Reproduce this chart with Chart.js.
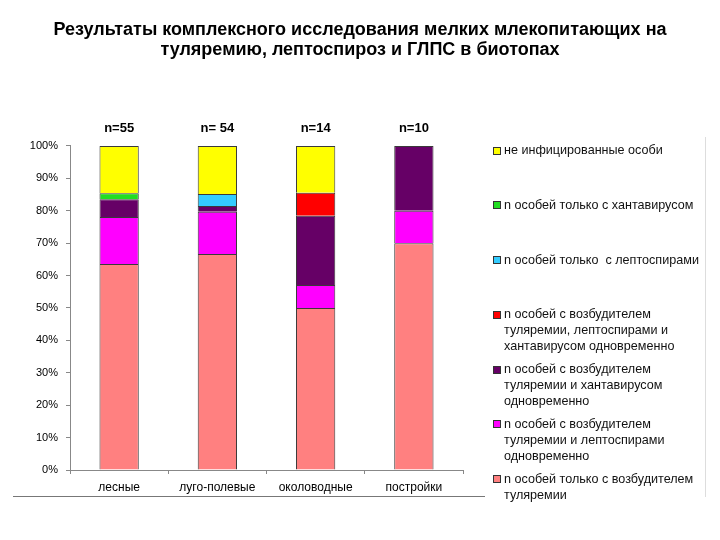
<!DOCTYPE html>
<html>
<head>
<meta charset="utf-8">
<script src="https://cdn.jsdelivr.net/npm/chart.js@4.4.0/dist/chart.umd.min.js"></script>
<style>
  html, body { margin: 0; padding: 0; background: #fff; }
  #wrap { position: relative; width: 720px; height: 540px; overflow: hidden; }
  #c { position: absolute; left: 0; top: 0; }
  #legend { position: absolute; left: 492px; top: 142px; width: 214px;
            font-family: 'Liberation Sans', Arial, sans-serif; font-size: 12.6px; color: #111; }
  .item { position: relative; height: 54.8px; }
  .sw { position: absolute; left: 0.5px; top: 4.5px; width: 6px; height: 6px; border: 1px solid #333; }
  .tx { position: absolute; left: 12px; top: 0; line-height: 16px; white-space: pre; }
  #hline { position: absolute; left: 13px; top: 496px; width: 472px; height: 0; border-top: 1px solid #777; }
  #vline { position: absolute; left: 705px; top: 137px; width: 0; height: 360px; border-left: 1px solid #ddd; }
</style>
</head>
<body>
<div id="wrap">
  <canvas id="c" width="720" height="540"></canvas>
  <div id="legend"></div>
  <div id="hline"></div>
  <div id="vline"></div>
</div>
<script>
// ---- data ----
const titleLines = ["Результаты комплексного исследования мелких млекопитающих на",
                    "туляремию, лептоспироз и ГЛПС в биотопах"];
const categories = ["лесные", "луго-полевые", "околоводные", "постройки"];
const sampleLabels = ["n=55", "n= 54", "n=14", "n=10"];
const yTickLabels = ["0%","10%","20%","30%","40%","50%","60%","70%","80%","90%","100%"];

// percentages, stacked bottom -> top
const tularemiaOnly   = [63.6, 66.7, 50.0, 70.0];
const tularemiaLepto  = [14.5, 13.0, 7.1, 10.0];
const tularemiaHanta  = [5.5, 1.8, 21.4, 20.0];
const allThree        = [0, 0, 7.1, 0];
const leptoOnly       = [0, 3.7, 0, 0];
const hantaOnly       = [1.8, 0, 0, 0];
const notInfected     = [14.6, 14.8, 14.4, 0];

const seriesNames = [
  "n особей только с возбудителем\nтуляремии",
  "n особей с возбудителем\nтуляремии и лептоспирами\nодновременно",
  "n особей с возбудителем\nтуляремии и хантавирусом\nодновременно",
  "n особей с возбудителем\nтуляремии, лептоспирами и\nхантавирусом одновременно",
  "n особей только  с лептоспирами",
  "n особей только с хантавирусом",
  "не инфицированные особи"
];
const seriesColors = ["#FF8080", "#FF00FF", "#660066", "#FF0000", "#33CCFF", "#22DD22", "#FFFF00"];
const seriesValues = [tularemiaOnly, tularemiaLepto, tularemiaHanta, allThree, leptoOnly, hantaOnly, notInfected];

// ---- chart ----
const datasets = seriesValues.map((vals, i) => ({
  label: seriesNames[i],
  data: vals,
  backgroundColor: seriesColors[i],
  borderColor: '#3a3a3a',
  borderWidth: 1,
  categoryPercentage: 0.8,
  barPercentage: 0.5,
  yAxisID: 'y'
}));

const nLabelPlugin = {
  id: 'nLabels',
  afterDatasetsDraw(chart) {
    const ctx = chart.ctx;
    const xs = chart.scales.x;
    ctx.save();
    ctx.font = 'bold 13px "Liberation Sans", Arial, sans-serif';
    ctx.fillStyle = '#000';
    ctx.textAlign = 'center';
    ctx.textBaseline = 'middle';
    sampleLabels.forEach((t, i) => ctx.fillText(t, xs.getPixelForValue(i), 128));
    ctx.restore();
  }
};

new Chart(document.getElementById('c'), {
  type: 'bar',
  data: { labels: categories, datasets },
  plugins: [nLabelPlugin],
  options: {
    responsive: false,
    animation: false,
    layout: { padding: { left: 0, right: 0, top: 0, bottom: 40 } },
    plugins: {
      legend: { display: false },
      tooltip: { enabled: false },
      title: {
        display: true,
        text: titleLines,
        color: '#000',
        font: { family: '"Liberation Sans", Arial, sans-serif', size: 18, weight: 'bold', lineHeight: 1.111 },
        padding: { top: 20, bottom: 86 }
      }
    },
    scales: {
      x: {
        stacked: true,
        afterFit: (s) => { s.height = 30; },
        border: { display: true, color: '#888', width: 1 },
        grid: { display: true, drawOnChartArea: false, drawTicks: true, tickLength: 4, color: '#888', offset: true },
        ticks: { color: '#000', padding: 6, font: { family: '"Liberation Sans", Arial, sans-serif', size: 12 } }
      },
      y: {
        stacked: true,
        min: 0, max: 100,
        afterFit: (s) => { s.width = 70; },
        border: { display: true, color: '#888', width: 1 },
        grid: { display: true, drawOnChartArea: false, drawTicks: true, tickLength: 4, color: '#888' },
        ticks: {
          stepSize: 10,
          color: '#000',
          padding: 8,
          font: { family: '"Liberation Sans", Arial, sans-serif', size: 11 },
          callback: (v) => yTickLabels[Math.round(v / 10)]
        }
      },
      // empty right-hand axis that only reserves the space taken by the legend
      yRight: {
        position: 'right',
        min: 0, max: 100,
        afterFit: (s) => { s.width = 257; },
        border: { display: false },
        grid: { display: false },
        ticks: { display: false }
      }
    }
  }
});

// ---- legend (top -> bottom is reverse of stacking order) ----
const legendEl = document.getElementById('legend');
for (let i = seriesNames.length - 1; i >= 0; i--) {
  const item = document.createElement('div');
  item.className = 'item';
  const sw = document.createElement('div');
  sw.className = 'sw';
  sw.style.background = seriesColors[i];
  const tx = document.createElement('div');
  tx.className = 'tx';
  tx.textContent = seriesNames[i];
  item.appendChild(sw);
  item.appendChild(tx);
  legendEl.appendChild(item);
}
</script>
</body>
</html>
